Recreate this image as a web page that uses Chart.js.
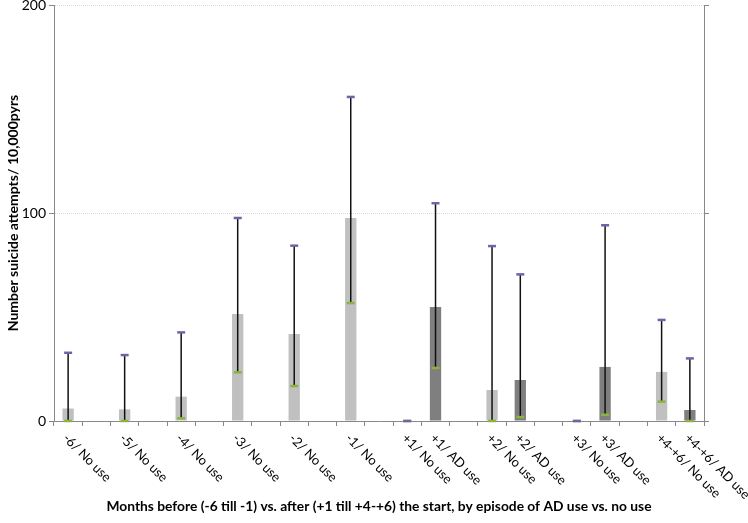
<!DOCTYPE html>
<html>
<head>
<meta charset="utf-8">
<script src="https://cdn.jsdelivr.net/npm/chart.js@4.4.1/dist/chart.umd.min.js"></script>
<style>
  html, body { margin: 0; padding: 0; background: #fff; }
  #wrap { width: 748px; height: 523px; }
</style>
</head>
<body>
<div id="wrap"><canvas id="chart"></canvas></div>
<script>
// categories (empty slots are the gaps between groups)
const labels = [
  "-6/ No use", "", "-5/ No use", "", "-4/ No use", "", "-3/ No use", "",
  "-2/ No use", "", "-1/ No use", "", "+1/ No use", "+1/ AD use", "",
  "+2/ No use", "+2/ AD use", "", "+3/ No use", "+3/ AD use", "",
  "+4-+6/ No use", "+4-+6/ AD use"
];

// rates per 10,000 person-years
const noUse = [6, null, 5.6, null, 11.7, null, 51.4, null, 41.8, null, 97.6, null, 0, null, null, 14.9, null, null, 0, null, null, 23.6, null];
const adUse = [null, null, null, null, null, null, null, null, null, null, null, null, null, 54.8, null, null, 19.7, null, null, 26, null, null, 5.3];

// confidence limits
const lower = [0, null, 0, null, 1.3, null, 23.4, null, 16.8, null, 56.7, null, 0, 25.5, null, 0, 1.9, null, 0, 3.0, null, 9.3, 0];
const upper = [32.8, null, 31.7, null, 42.6, null, 97.6, null, 84.3, null, 155.8, null, 0, 104.7, null, 84.1, 70.5, null, 0, 94.1, null, 48.6, 30.1];

const yTicks = [0, 100, 200];

const FONT = "Lato, 'Open Sans', sans-serif";

// error bars with coloured caps
const errorBars = {
  id: 'errorBars',
  afterDatasetsDraw(chart) {
    const ctx = chart.ctx;
    const x = chart.scales.x, y = chart.scales.y;
    ctx.save();
    for (let i = 0; i < labels.length; i++) {
      if (upper[i] == null) continue;
      const cx = x.getPixelForValue(i);
      const yl = y.getPixelForValue(lower[i]);
      const yh = y.getPixelForValue(upper[i]);
      ctx.strokeStyle = '#111';
      ctx.lineWidth = 1.5;
      ctx.beginPath();
      ctx.moveTo(cx, yl);
      ctx.lineTo(cx, yh);
      ctx.stroke();
      ctx.lineWidth = 2.5;
      ctx.strokeStyle = '#8cb43c';
      ctx.beginPath();
      ctx.moveTo(cx - 4, yl);
      ctx.lineTo(cx + 4, yl);
      ctx.stroke();
      ctx.strokeStyle = '#7462a6';
      ctx.beginPath();
      ctx.moveTo(cx - 4, yh);
      ctx.lineTo(cx + 4, yh);
      ctx.stroke();
    }
    ctx.restore();
  }
};

// slanted category labels running down to the right
const slantLabels = {
  id: 'slantLabels',
  afterDraw(chart) {
    const ctx = chart.ctx;
    const x = chart.scales.x;
    ctx.save();
    ctx.font = "13px " + FONT;
    ctx.fillStyle = '#000';
    ctx.textAlign = 'left';
    ctx.textBaseline = 'middle';
    labels.forEach((t, i) => {
      if (!t) return;
      const px = x.getPixelForValue(i);
      ctx.save();
      ctx.translate(px - 3, x.top + 15);
      ctx.rotate(Math.PI / 4);
      ctx.fillText(t, 0, 0);
      ctx.restore();
    });
    ctx.restore();
  }
};

new Chart(document.getElementById('chart'), {
  type: 'bar',
  data: {
    labels: labels,
    datasets: [
      { label: 'No use', data: noUse, backgroundColor: '#c0c0c0', grouped: false,
        barPercentage: 0.4, categoryPercentage: 1 },
      { label: 'AD use', data: adUse, backgroundColor: '#7f7f7f', grouped: false,
        barPercentage: 0.4, categoryPercentage: 1 }
    ]
  },
  options: {
    responsive: true,
    maintainAspectRatio: false,
    animation: false,
    layout: { padding: 0 },
    plugins: {
      legend: { display: false },
      tooltip: { enabled: false }
    },
    scales: {
      x: {
        ticks: { display: false },
        grid: { offset: true, drawOnChartArea: false, tickLength: 5, color: '#888' },
        border: { color: '#888', width: 1 },
        title: {
          display: true,
          text: 'Months before (-6 till -1) vs. after (+1 till +4-+6) the start, by episode of AD use vs. no use',
          font: { family: FONT, size: 13.8, weight: 'bold' },
          color: '#000',
          padding: { top: 0, bottom: 8 }
        },
        afterFit(s) { s.height = 102; }
      },
      y: {
        min: 0, max: 200,
        afterBuildTicks(s) { s.ticks = yTicks.map(v => ({ value: v })); },
        ticks: { font: { family: FONT, size: 14 }, color: '#000', padding: 3 },
        grid: {
          color: c => c.tick.value === 0 ? 'rgba(0,0,0,0)' : '#d9d9d9',
          tickColor: '#888', tickLength: 5, tickBorderDash: []
        },
        border: { color: '#888', dash: [1, 1] },
        title: {
          display: true,
          text: 'Number suicide attempts/ 10,000pyrs',
          font: { family: FONT, size: 14, weight: 'bold' },
          color: '#000',
          padding: { top: 5, bottom: 0 }
        },
        afterFit(s) { s.width = 54; s.paddingTop = 5; }
      },
      y2: {
        position: 'right',
        min: 0, max: 200,
        afterBuildTicks(s) { s.ticks = yTicks.map(v => ({ value: v })); },
        ticks: { display: false },
        grid: { drawOnChartArea: false, tickLength: 5, color: '#888' },
        border: { color: '#888' },
        afterFit(s) { s.width = 44; s.paddingTop = 5; }
      }
    }
  },
  plugins: [errorBars, slantLabels]
});
</script>
</body>
</html>
